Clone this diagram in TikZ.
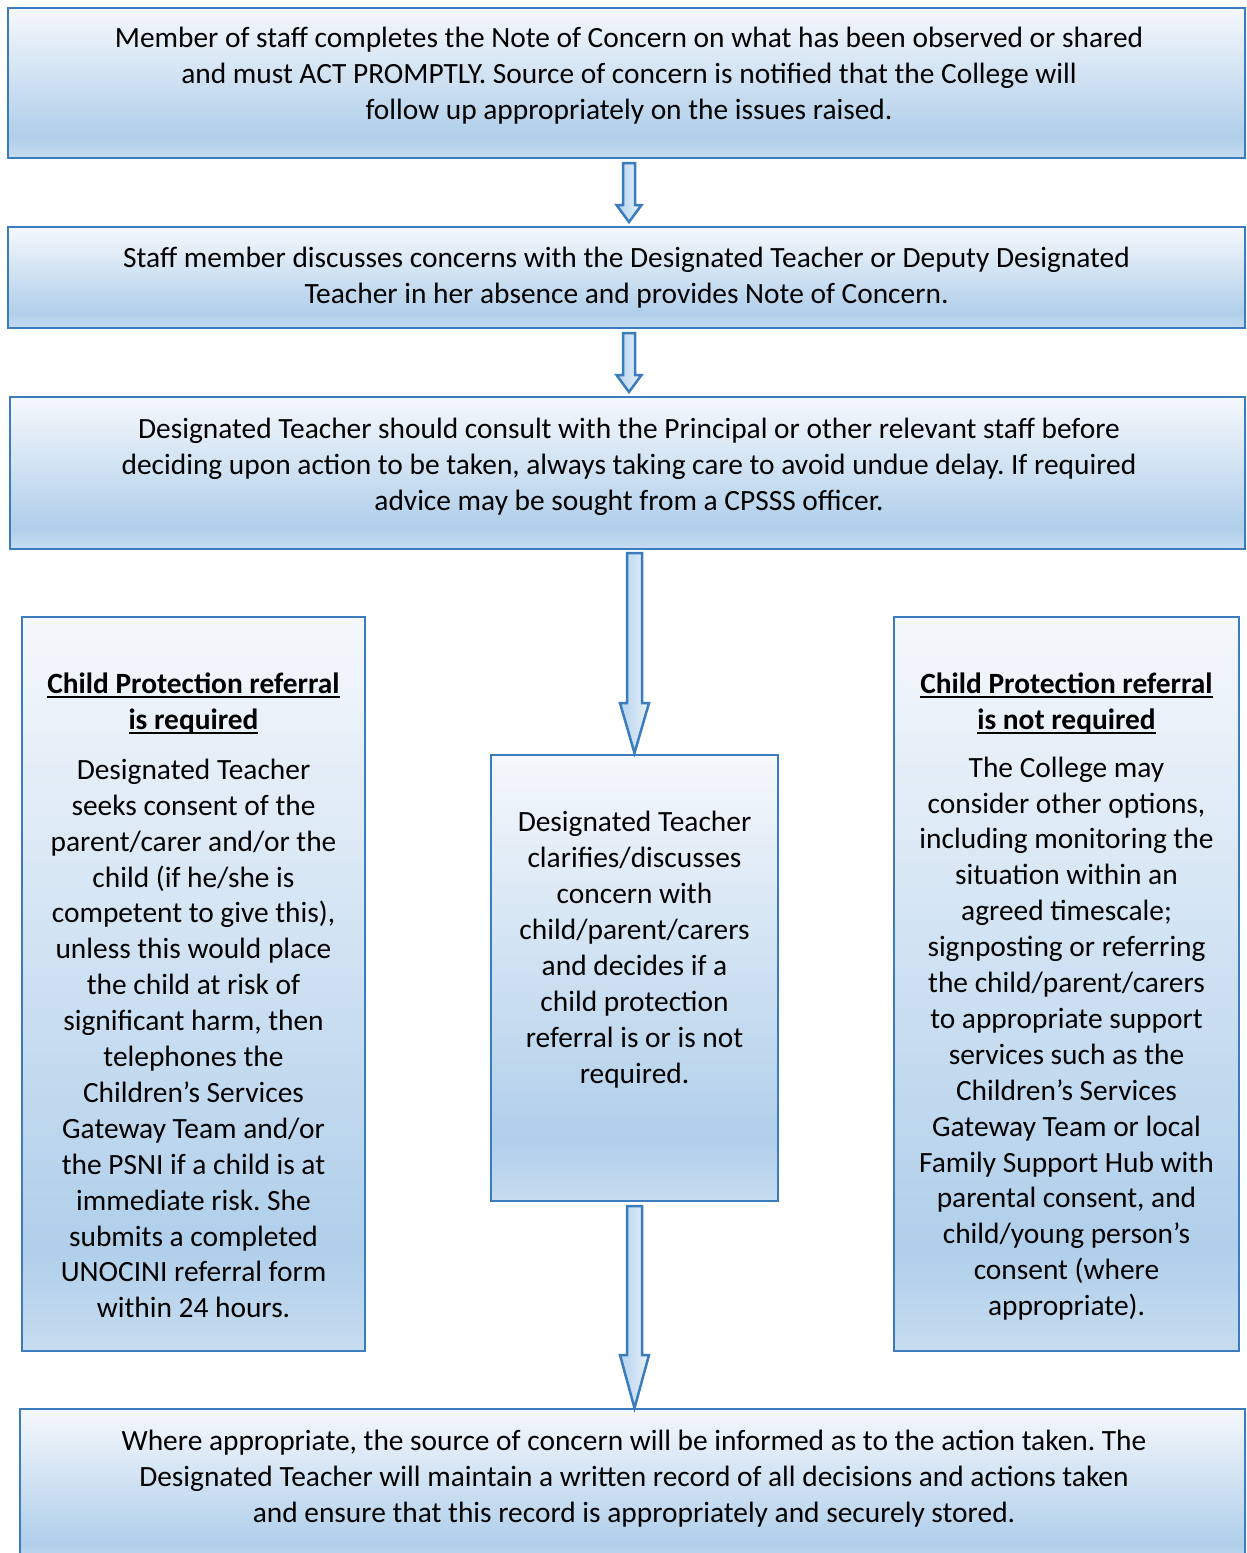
\documentclass[tikz,border=0pt]{standalone}
\usepackage{fontspec}
\setmainfont{Carlito}
\usetikzlibrary{calc}
\frenchspacing
\definecolor{bordc}{HTML}{3A7CBE}
\definecolor{gtop}{HTML}{F5F8FC}
\definecolor{gdark}{HTML}{B0CFEA}
\definecolor{gbot}{HTML}{C6DCF0}
\definecolor{arrL}{HTML}{B4D2ED}
\definecolor{arrR}{HTML}{E8F1FA}
\pgfdeclareverticalshading{boxgrad}{100bp}{color(0bp)=(gbot); color(25bp)=(gbot); color(32bp)=(gdark); color(75bp)=(gtop); color(100bp)=(gtop)}
\newcommand{\ulbold}[1]{\setbox0\hbox{\bfseries #1}\rlap{\rule[-5pt]{\wd0}{2.6pt}}\box0}
\newcommand{\blockarrow}[5]{%
  \path[arrowst] let \p1=(#1), \p2=(#2) in
    (\x2-#3pt,\y1) -- (\x2+#3pt,\y1) -- (\x2+#3pt,\y2+#5pt) -- (\x2+#4pt,\y2+#5pt)
    -- (\x2,\y2) -- (\x2-#4pt,\y2+#5pt) -- (\x2-#3pt,\y2+#5pt) -- cycle;}
\begin{document}
\begin{tikzpicture}[x=1pt,y=-1pt,
  box/.style={draw=bordc, line width=2.5pt, shading=boxgrad, rectangle, inner sep=0pt, outer sep=0pt},
  txt/.style={align=center, inner sep=0pt, font=\fontsize{29.4}{35.9}\selectfont},
  arrowst/.style={draw=bordc, line width=2.5pt, line join=miter, left color=arrL, right color=arrR}]
\clip (0,0) rectangle (1247,1553);
\fill[white] (0,0) rectangle (1247,1553);

\node[box, minimum width=1237pt, minimum height=150pt] (b1) at (626.5,83) {};
\node[box, minimum width=1237pt, minimum height=101pt] (b2) at (626.5,277.5) {};
\node[box, minimum width=1235pt, minimum height=152pt] (b3) at (627.5,473) {};
\node[box, minimum width=343pt, minimum height=734pt] (bl) at (193.5,984) {};
\node[box, minimum width=287pt, minimum height=446pt] (bm) at (634.5,978) {};
\node[box, minimum width=345pt, minimum height=734pt] (br) at (1066.5,984) {};
\node[box, minimum width=1225pt, minimum height=156pt] (b5) at (632.5,1487) {};

\node[txt] (t1) at (629,75.5) {Member of staff completes the Note of Concern on what has been observed or shared\\and must ACT PROMPTLY. Source of concern is notified that the College will\\follow up appropriately on the issues raised.};
\node[txt] (t2) at (626.5,277.5) {Staff member discusses concerns with the Designated Teacher or Deputy Designated\\Teacher in her absence and provides Note of Concern.};
\node[txt] (t3) at (629,466.5) {Designated Teacher should consult with the Principal or other relevant staff before\\deciding upon action to be taken, always taking care to avoid undue delay. If required\\advice may be sought from a CPSSS officer.};

\node[txt] (tlh) at (193.5,703.5) {\ulbold{Child Protection referral}\\\ulbold{is required}};
\node[txt] (tlb) at (193.5,1038.5) {Designated Teacher\\seeks consent of the\\parent/carer and/or the\\child (if he/she is\\competent to give this),\\unless this would place\\the child at risk of\\significant harm, then\\telephones the\\Children’s Services\\Gateway Team and/or\\the PSNI if a child is at\\immediate risk. She\\submits a completed\\UNOCINI referral form\\within 24 hours.};

\node[txt] (tm) at (634.5,949.5) {Designated Teacher\\clarifies/discusses\\concern with\\child/parent/carers\\and decides if a\\child protection\\referral is or is not\\required.};

\node[txt] (trh) at (1066.5,703.5) {\ulbold{Child Protection referral}\\\ulbold{is not required}};
\node[txt] (trb) at (1066.5,1038.5) {The College may\\consider other options,\\including monitoring the\\situation within an\\agreed timescale;\\signposting or referring\\the child/parent/carers\\to appropriate support\\services such as the\\Children’s Services\\Gateway Team or local\\Family Support Hub with\\parental consent, and\\child/young person’s\\consent (where\\appropriate).};

\node[txt] (t5) at (634,1478.5) {Where appropriate, the source of concern will be informed as to the action taken. The\\Designated Teacher will maintain a written record of all decisions and actions taken\\and ensure that this record is appropriately and securely stored.};

\coordinate (a1s) at ($(b1.south)+(2.5,5)$);
\coordinate (a1e) at ($(b2.north)+(2.5,-5)$);
\coordinate (a2s) at ($(b2.south)+(2.5,5)$);
\coordinate (a2e) at ($(b3.north)+(1.5,-5)$);
\coordinate (a3s) at ($(b3.south)+(7,4)$);
\coordinate (a3e) at ($(bm.north)+(0,-2)$);
\coordinate (a4s) at ($(bm.south)+(0,5)$);
\coordinate (a4e) at ($(b5.north)+(2,-1)$);
\blockarrow{a1s}{a1e}{6}{12.5}{17}
\blockarrow{a2s}{a2e}{6}{12.5}{17}
\blockarrow{a3s}{a3e}{7.5}{14.5}{50}
\blockarrow{a4s}{a4e}{7.5}{14.5}{53}
\end{tikzpicture}
\end{document}
